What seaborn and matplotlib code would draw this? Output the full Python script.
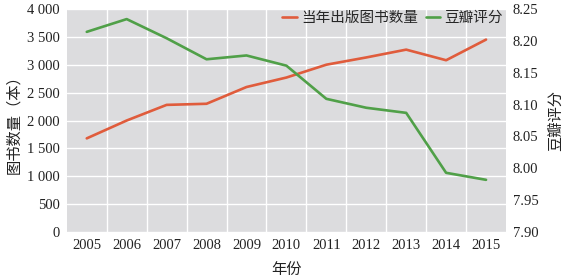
import matplotlib
matplotlib.use("Agg")
import matplotlib.pyplot as plt
import seaborn as sns
import pandas as pd
from matplotlib.ticker import FuncFormatter, MultipleLocator

years = [2005, 2006, 2007, 2008, 2009, 2010, 2011, 2012, 2013, 2014, 2015]
books = [1680, 2000, 2280, 2300, 2600, 2770, 3000, 3130, 3270, 3080, 3450]
rating = [8.214, 8.234, 8.204, 8.171, 8.177, 8.161, 8.109, 8.095, 8.087, 7.993, 7.982]
label_books = "当年出版图书数量"
label_rating = "豆瓣评分"

sns.set_theme(style="darkgrid")
plt.rcParams['font.family'] = ['Liberation Serif', 'Noto Sans CJK SC']

df = pd.DataFrame({"year": years, "books": books, "rating": rating})

fig = plt.figure(figsize=(5.66, 2.78), dpi=100)
ax = fig.add_axes([0.118, 0.165, 0.776, 0.803])
ax.set_facecolor("#dcdcde")
c1 = "#e05c3c"
c2 = "#50a048"
sns.lineplot(data=df, x="year", y="books", ax=ax, color=c1, lw=1.9, label=label_books, legend=False)
ax2 = ax.twinx()
sns.lineplot(data=df, x="year", y="rating", ax=ax2, color=c2, lw=1.9, label=label_rating, legend=False)

ax.set_xlim(2004.5, 2015.5)
ax.set_xticks(years)
ax.set_xticks([y + 0.5 for y in years[:-1]], minor=True)
ax.set_ylim(0, 4000)
ax.yaxis.set_major_locator(MultipleLocator(500))
ax.yaxis.set_major_formatter(FuncFormatter(lambda v, p: f"{int(v):,}".replace(",", " ")))
ax2.set_ylim(7.90, 8.25)
ax2.set_yticks([7.90, 7.95, 8.00, 8.05, 8.10, 8.15, 8.20, 8.25])
ax2.yaxis.set_major_formatter(FuncFormatter(lambda v, p: f"{v:.2f}"))

ax.grid(False, axis="x", which="major")
ax.grid(True, axis="x", which="minor", color="white", lw=1.0)
ax.grid(True, axis="y", which="major", color="white", lw=1.0)
ax2.grid(False)
for a in (ax, ax2):
    for s in a.spines.values():
        s.set_visible(False)
    a.tick_params(length=0, labelsize=10.5, colors="#222222", pad=5)

ax.set_xlabel("年份", fontsize=11, color="#222222", labelpad=8)
ax.set_ylabel("图书数量（本）", fontsize=11, color="#222222", labelpad=4)
ax2.set_ylabel("豆瓣评分", fontsize=11, color="#222222", labelpad=8, rotation=90)

h1, l1 = ax.get_legend_handles_labels()
h2, l2 = ax2.get_legend_handles_labels()
ax.legend(h1 + h2, l1 + l2, loc="upper right", ncol=2, frameon=False,
          fontsize=10.5, handlelength=1.0, handletextpad=0.3, columnspacing=0.5,
          borderaxespad=0.1, borderpad=0.1)

fig.savefig("out.png", dpi=100)
